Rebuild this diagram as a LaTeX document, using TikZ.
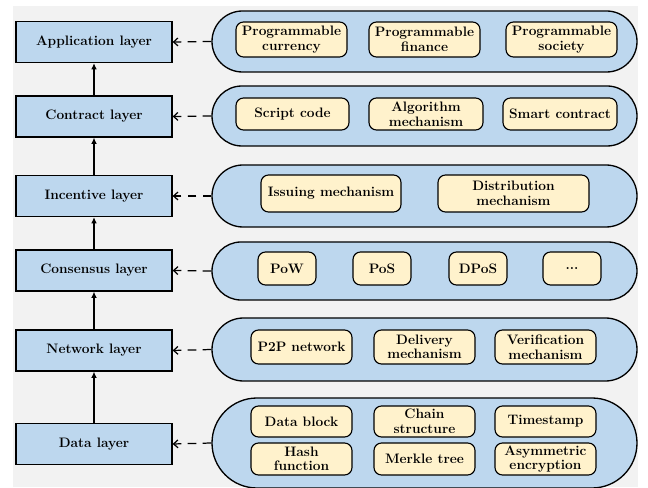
\documentclass[tikz,border=0pt]{standalone}
\usepackage{fontspec}
\usepackage{tikz}
\usetikzlibrary{shapes.misc,arrows.meta,positioning}
\definecolor{layerBlue}{HTML}{BDD7EE}
\definecolor{itemCream}{HTML}{FFF2CC}
\definecolor{bgGray}{HTML}{F2F2F2}

\begin{document}
\begin{tikzpicture}[
  font=\fontsize{15.6}{16.5}\selectfont\bfseries,
  layer/.style={draw, line width=1.5pt, fill=layerBlue, minimum width=6.24cm, minimum height=1.64cm},
  group/.style={draw, line width=1.5pt, fill=layerBlue, rounded rectangle, minimum width=17cm, inner sep=0pt},
  item/.style={draw, line width=1.3pt, fill=itemCream, rounded corners=0.3cm, align=center, inner sep=0pt},
  up/.style={line width=1.4pt, -{Latex[length=7pt,width=6.5pt]}},
  feed/.style={line width=1.4pt, dash pattern=on 10pt off 7pt, -{Straight Barb[length=5pt,width=9pt]}}
]

        \useasboundingbox (0,0) rectangle (25.92,19.48);
        \fill[bgGray] (0.52,0) rectangle (25.52,19.24);

        % Layers (left)
        \node[layer] (app) at (3.76,17.8) {Application layer};
        \node[layer] (con) at (3.76,14.82) {Contract layer};
        \node[layer] (inc) at (3.76,11.64) {Incentive layer};
        \node[layer] (cns) at (3.76,8.66) {Consensus layer};
        \node[layer] (net) at (3.76,5.46) {Network layer};
        \node[layer] (dat) at (3.76,1.72) {Data layer};

        \draw[up] (dat) -- (net);
        \draw[up] (net) -- (cns);
        \draw[up] (cns) -- (inc);
        \draw[up] (inc) -- (con);
        \draw[up] (con) -- (app);

        % Groups (right)
        \node[group, minimum height=2.44cm] (gApp) at (16.98,17.82) {};
        \node[group, minimum height=2.4cm] (gCon) at (16.98,14.84) {};
        \node[group, minimum height=2.48cm] (gInc) at (16.98,11.64) {};
        \node[group, minimum height=2.32cm] (gCns) at (16.98,8.64) {};
        \node[group, minimum height=2.52cm] (gNet) at (16.98,5.5) {};
        \node[group, minimum height=3.6cm] (gDat) at (16.98,1.76) {};

        \draw[feed] (gApp.west) -- (app.east);
        \draw[feed] (gCon.west) -- (con.east);
        \draw[feed] (gInc.west) -- (inc.east);
        \draw[feed] (gCns.west) -- (cns.east);
        \draw[feed] (gNet.west) -- (net.east);
        \draw[feed] (gDat.west) -- (dat.east);

        % Application items
        \node[item, minimum width=4.44cm, minimum height=1.4cm] (a1) at (11.66,17.9) {Programmable\\currency};
        \node[item, minimum width=4.44cm, minimum height=1.4cm] (a2) at (16.98,17.9) {Programmable\\finance};
        \node[item, minimum width=4.44cm, minimum height=1.4cm] (a3) at (22.46,17.9) {Programmable\\society};

        % Contract items
        \node[item, minimum width=4.52cm, minimum height=1.28cm] (c1) at (11.7,14.92) {Script code};
        \node[item, minimum width=4.56cm, minimum height=1.28cm] (c2) at (17.04,14.92) {Algorithm\\mechanism};
        \node[item, minimum width=4.56cm, minimum height=1.28cm] (c3) at (22.4,14.92) {Smart contract};

        % Incentive items
        \node[item, minimum width=5.6cm, minimum height=1.48cm] (i1) at (13.24,11.74) {Issuing mechanism};
        \node[item, minimum width=6.04cm, minimum height=1.48cm] (i2) at (20.54,11.74) {Distribution\\mechanism};

        % Consensus items
        \node[item, minimum width=2.32cm, minimum height=1.32cm] (s1) at (11.48,8.74) {PoW};
        \node[item, minimum width=2.32cm, minimum height=1.32cm] (s2) at (15.28,8.74) {PoS};
        \node[item, minimum width=2.32cm, minimum height=1.32cm] (s3) at (19.12,8.74) {DPoS};
        \node[item, minimum width=2.32cm, minimum height=1.32cm] (s4) at (22.88,8.74) {...};

        % Network items
        \node[item, minimum width=4.04cm, minimum height=1.36cm] (n1) at (12.06,5.6) {P2P network};
        \node[item, minimum width=4.04cm, minimum height=1.36cm] (n2) at (16.98,5.6) {Delivery\\mechanism};
        \node[item, minimum width=4.04cm, minimum height=1.36cm] (n3) at (21.82,5.6) {Verification\\mechanism};

        % Data items
        \node[item, minimum width=4.04cm, minimum height=1.24cm] (d1) at (12.06,2.62) {Data block};
        \node[item, minimum width=4.04cm, minimum height=1.24cm] (d2) at (16.98,2.62) {Chain\\structure};
        \node[item, minimum width=4.04cm, minimum height=1.24cm] (d3) at (21.82,2.62) {Timestamp};
        \node[item, minimum width=4.04cm, minimum height=1.28cm] (d4) at (12.06,1.12) {Hash\\function};
        \node[item, minimum width=4.04cm, minimum height=1.28cm] (d5) at (16.98,1.12) {Merkle tree};
        \node[item, minimum width=4.04cm, minimum height=1.28cm] (d6) at (21.82,1.12) {Asymmetric\\encryption};

\end{tikzpicture}
\end{document}
